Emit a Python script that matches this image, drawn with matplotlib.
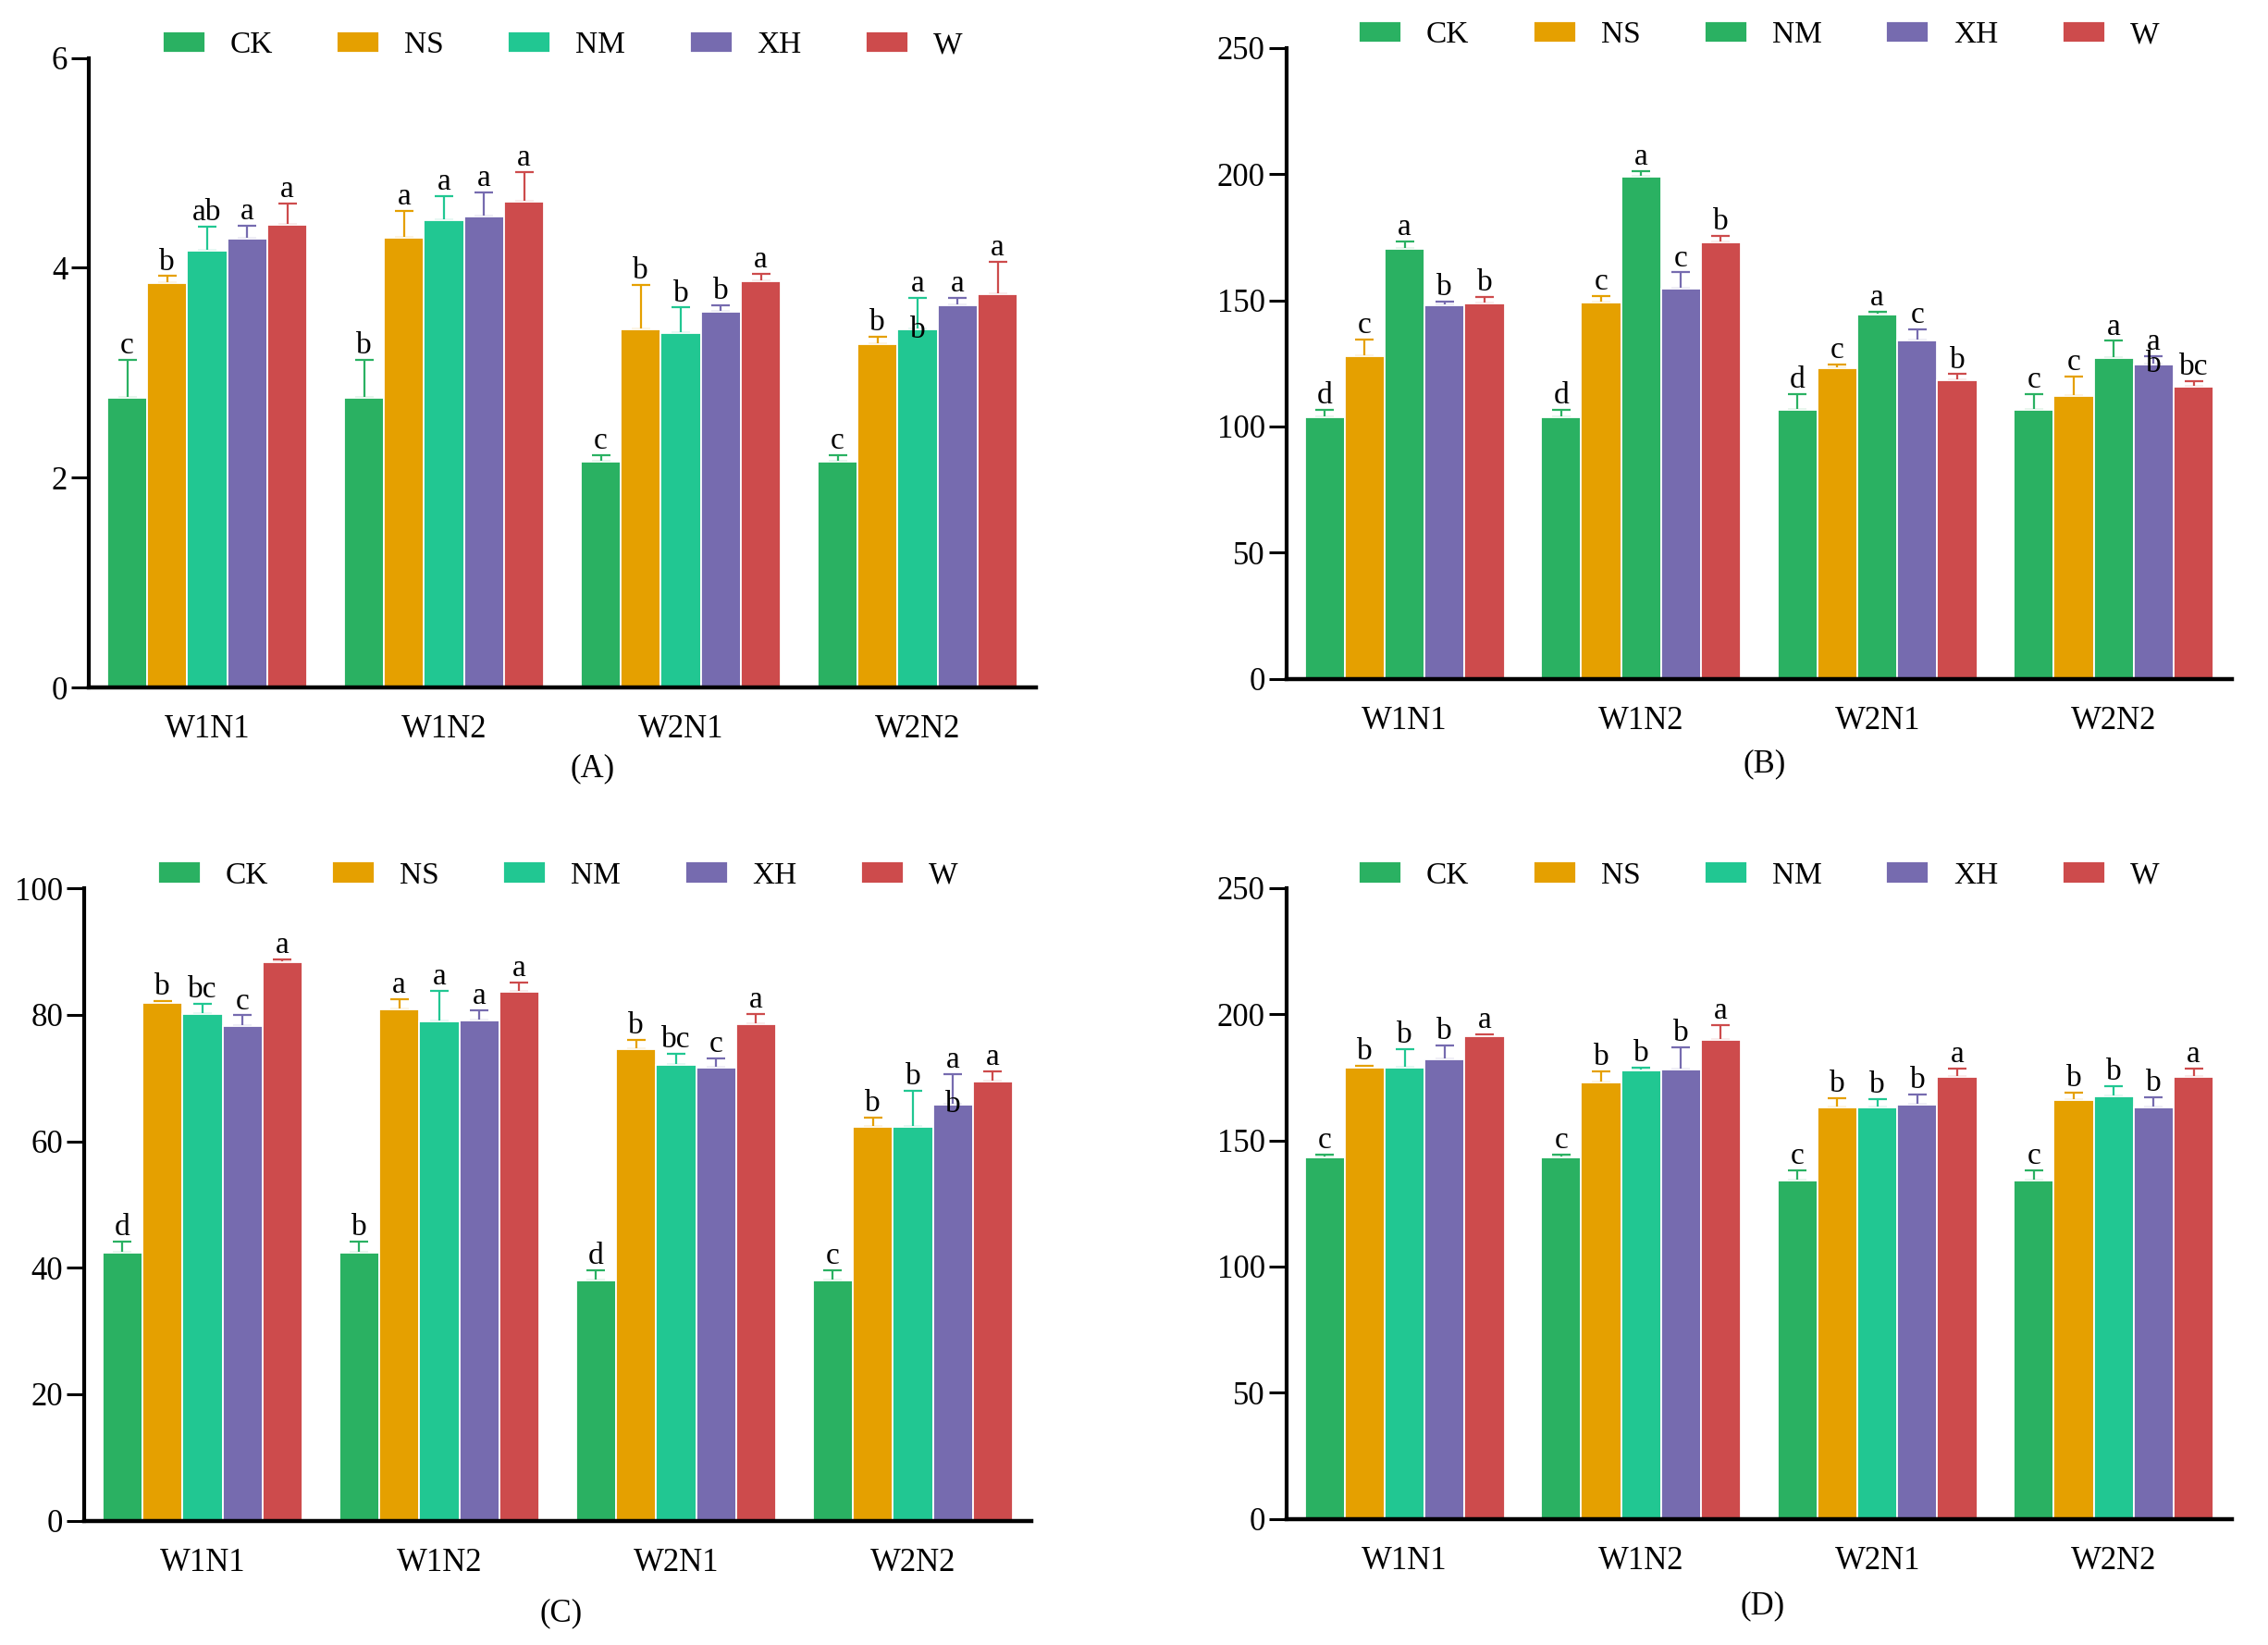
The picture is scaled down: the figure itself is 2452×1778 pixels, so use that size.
import numpy as np
import matplotlib
matplotlib.use("Agg")
import matplotlib.pyplot as plt
from matplotlib import font_manager

# police type Times (Liberation Serif si disponible)
serif_names = [f.name for f in font_manager.fontManager.ttflist if 'Serif' in f.name]
print(sorted(set(serif_names)))
plt.rcParams['font.family'] = 'serif'
plt.rcParams['font.serif'] = ['Liberation Serif', 'Times New Roman', 'DejaVu Serif']

# groupes et traitements
groups = ["W1N1", "W1N2", "W2N1", "W2N2"]
treatments = ["CK", "NS", "NM", "XH", "W"]

colors = ["#2AB162", "#E5A000", "#21C792", "#766BAF", "#CD4B4C"]
colors_b = ["#2AB162", "#E5A000", "#2AB162", "#766BAF", "#CD4B4C"]

# (A) moyennes, erreurs (vers le haut) et lettres, une ligne par traitement
A_mean = [[2.76, 2.76, 2.15, 2.15],
          [3.85, 4.29, 3.41, 3.27],
          [4.16, 4.45, 3.38, 3.41],
          [4.28, 4.49, 3.58, 3.64],
          [4.41, 4.63, 3.87, 3.75]]
A_err = [[0.36, 0.36, 0.06, 0.06],
         [0.07, 0.25, 0.43, 0.07],
         [0.23, 0.23, 0.24, 0.30],
         [0.12, 0.23, 0.06, 0.07],
         [0.20, 0.28, 0.07, 0.31]]
A_letters = [["c", "b", "c", "c"],
             ["b", "a", "b", "b"],
             ["ab", "a", "b", "a"],
             ["a", "a", "b", "a"],
             ["a", "a", "a", "a"]]
A_extra = {(2, 3): "b"}

# (B)
B_mean = [[103.8, 103.8, 106.6, 106.6],
          [127.7, 149.0, 123.0, 112.2],
          [170.2, 198.9, 144.4, 127.1],
          [148.0, 154.5, 134.0, 124.5],
          [148.8, 173.0, 118.3, 115.8]]
B_err = [[2.8, 2.8, 6.4, 6.4],
         [6.9, 2.6, 1.7, 7.5],
         [3.2, 2.1, 1.0, 6.8],
         [1.4, 6.5, 4.4, 3.2],
         [2.6, 2.4, 2.4, 2.3]]
B_letters = [["d", "d", "d", "c"],
             ["c", "c", "c", "c"],
             ["a", "a", "a", "a"],
             ["b", "c", "c", "a"],
             ["b", "b", "b", "bc"]]
B_extra = {(3, 3): "b"}

# (C)
C_mean = [[42.4, 42.4, 38.0, 38.0],
          [81.9, 80.8, 74.6, 62.2],
          [80.1, 78.9, 72.1, 62.3],
          [78.2, 79.1, 71.7, 65.8],
          [88.3, 83.6, 78.5, 69.5]]
C_err = [[1.7, 1.7, 1.6, 1.6],
         [0.3, 1.7, 1.4, 1.5],
         [1.6, 4.9, 1.8, 5.7],
         [1.7, 1.6, 1.4, 4.8],
         [0.5, 1.5, 1.6, 1.5]]
C_letters = [["d", "b", "d", "c"],
             ["b", "a", "b", "b"],
             ["bc", "a", "bc", "b"],
             ["c", "a", "c", "a"],
             ["a", "a", "a", "a"]]
C_extra = {(3, 3): "b"}

# (D)
D_mean = [[143.3, 143.3, 134.2, 134.2],
          [178.8, 173.0, 163.0, 166.0],
          [178.8, 177.7, 163.2, 167.5],
          [182.3, 178.2, 164.0, 163.0],
          [191.3, 189.9, 175.1, 175.1]]
D_err = [[1.0, 1.0, 4.1, 4.1],
         [0.8, 4.3, 3.9, 2.9],
         [7.4, 1.3, 3.1, 3.9],
         [5.5, 8.8, 4.3, 4.1],
         [0.6, 5.9, 3.5, 3.5]]
D_letters = [["c", "c", "c", "c"],
             ["b", "b", "b", "b"],
             ["b", "b", "b", "b"],
             ["b", "b", "b", "b"],
             ["a", "a", "a", "a"]]
D_extra = {}

FS = 25


# fonction qui trace un panneau
def panel(ax, mean, err, letters, extra, cols, ymax, ystep, tag, tagpos):
    x = np.arange(len(groups))
    w = 0.169
    for i, name in enumerate(treatments):
        xi = x + (i - 2) * w
        m = np.array(mean[i])
        e = np.array(err[i])
        # barre d'erreur vers le haut seulement
        ax.errorbar(xi, m, yerr=[np.zeros_like(e), e], fmt='none',
                    ecolor=cols[i], elinewidth=1.6, capsize=7, capthick=1.6,
                    zorder=1)
        ax.bar(xi, m, width=w, color=cols[i], edgecolor='white',
               linewidth=1.3, label=name, zorder=2)
        for j in range(len(groups)):
            ax.annotate(letters[i][j], (xi[j], m[j] + e[j]),
                        xytext=(0, 5), textcoords='offset points',
                        ha='center', va='baseline', fontsize=FS - 1, zorder=4)
            if (i, j) in extra:
                ax.text(xi[j], m[j], extra[(i, j)], ha='center',
                        va='center', fontsize=FS - 1, zorder=4)

    ax.set_xlim(-0.5, 3.5)
    ax.set_ylim(0, ymax)
    ax.set_yticks(np.arange(0, ymax + ystep / 2, ystep))
    ax.set_xticks(x)
    ax.set_xticklabels(groups)
    ax.spines['top'].set_visible(False)
    ax.spines['right'].set_visible(False)
    ax.spines['left'].set_linewidth(3)
    ax.spines['bottom'].set_linewidth(3.2)
    ax.spines['bottom'].set_zorder(5)
    ax.tick_params(axis='y', direction='out', length=13.5, width=2.2,
                   pad=3, labelsize=FS)
    ax.tick_params(axis='x', length=0, pad=21, labelsize=FS)

    ax.legend(loc='center', bbox_to_anchor=(0.5, 1.02), ncol=5, frameon=False,
              fontsize=FS - 1, handlelength=1.38, handleheight=0.7,
              handletextpad=0.8, columnspacing=2.09, borderpad=0,
              borderaxespad=0)
    ax.text(tagpos[0], tagpos[1], tag, transform=ax.transAxes, ha='center',
            va='center', fontsize=FS)


fig = plt.figure(figsize=(24.52, 17.78), dpi=100)
axA = fig.add_axes([0.0392, 0.5821, 0.4176, 0.3827])
axB = fig.add_axes([0.5672, 0.5872, 0.4169, 0.3838])
axC = fig.add_axes([0.0371, 0.0756, 0.4176, 0.3844])
axD = fig.add_axes([0.5672, 0.0767, 0.4169, 0.3834])

panel(axA, A_mean, A_err, A_letters, A_extra, colors, 6, 2, "(A)", (0.532, -0.129))
panel(axB, B_mean, B_err, B_letters, B_extra, colors_b, 250, 50, "(B)", (0.506, -0.135))
panel(axC, C_mean, C_err, C_letters, C_extra, colors, 100, 20, "(C)", (0.504, -0.147))
panel(axD, D_mean, D_err, D_letters, D_extra, colors, 250, 50, "(D)", (0.504, -0.138))

fig.savefig("out.png", dpi=100)
